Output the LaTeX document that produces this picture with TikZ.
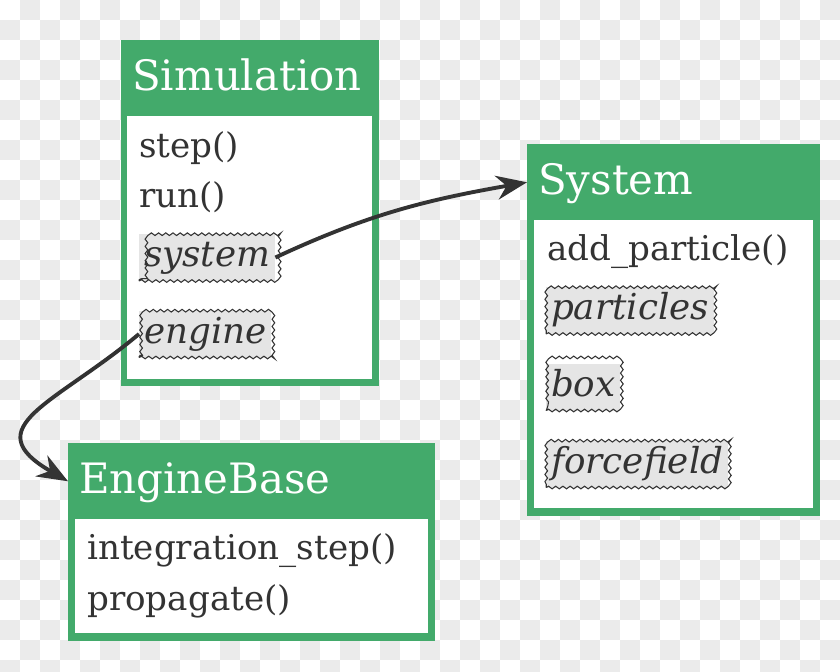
\documentclass[tikz,border=0pt]{standalone}
\usepackage{fontspec}
\setmainfont{DejaVu Serif}
\usetikzlibrary{arrows.meta,decorations.pathmorphing}
\definecolor{umlgreen}{RGB}{67,170,107}
\definecolor{ink}{RGB}{51,51,51}
\definecolor{attrgray}{RGB}{229,229,229}
\definecolor{checker}{RGB}{235,235,235}
\tikzset{
  classframe/.style={fill=umlgreen, anchor=north west, inner sep=0pt},
  classbody/.style={fill=white, anchor=north west, inner sep=0pt},
  classhead/.style={anchor=north west, text=white, align=left,
    font=\fontsize{31.4}{37}\selectfont,
    inner xsep=11*\pu, inner ysep=0pt, text height=23.9pt, text depth=5.5pt},
  member/.style={anchor=base west, text=ink, inner sep=0pt,
    font=\fontsize{25.6}{30}\selectfont},
  attr/.style={anchor=west, text=ink, fill=attrgray, inner xsep=3.6pt,
    font=\fontsize{26.8}{31}\selectfont\itshape,
    minimum height=47*\pu, text height=19.5pt, text depth=5.5pt,
    postaction={draw=ink, line width=0.8pt, decorate,
      decoration={snake, segment length=5.4pt, amplitude=1pt}}},
  arr/.style={draw=ink, line width=2.9pt, -{Stealth[length=23pt,width=18pt]}},
}
\begin{document}
\begin{tikzpicture}[x=0.75pt, y=-0.75pt]
  \def\pu{0.75pt}
  \useasboundingbox (0,0) rectangle (840,672);
  % checkered background
  \fill[white] (0,0) rectangle (840,672);
  \foreach \i in {0,...,41}
    \foreach \j in {0,...,33}
      {\ifodd\numexpr\i+\j\relax \fill[checker] (20*\i,20*\j) rectangle +(20,20);\fi}

  % Simulation
  \node[classframe, minimum width=258*\pu, minimum height=346*\pu] (simframe) at (121,40) {};
  \node[classbody, minimum width=245*\pu, minimum height=263*\pu] (simbody) at (127,116) {};
  \node[classhead, text width=236*\pu, minimum height=76*\pu] (simhead) at (121,40) {Simulation};
  \node[member] (simstep) at (139,157) {step()};
  \node[member] (simrun) at (139,207) {run()};
  \node[attr] (simsystem) at (139,257.5) {system};
  \node[attr] (simengine) at (139,334) {engine};

  % System
  \node[classframe, minimum width=293*\pu, minimum height=372*\pu] (sysframe) at (527,144) {};
  \node[classbody, minimum width=279*\pu, minimum height=288*\pu] (sysbody) at (534,220) {};
  \node[classhead, text width=271*\pu, minimum height=76*\pu] (syshead) at (527,144) {System};
  \node[member] (sysadd) at (547,260) {add\_particle()};
  \node[attr] (sysparticles) at (546,310.5) {particles};
  \node[attr] (sysbox) at (546,387) {box};
  \node[attr] (sysforcefield) at (546,464) {forcefield};

  % EngineBase
  \node[classframe, minimum width=367*\pu, minimum height=198*\pu] (engframe) at (68,443) {};
  \node[classbody, minimum width=353*\pu, minimum height=114*\pu] (engbody) at (75,519) {};
  \node[classhead, text width=345*\pu, minimum height=76*\pu] (enghead) at (68,443) {EngineBase};
  \node[member] (engintegrate) at (87,559) {integration\_step()};
  \node[member] (engpropagate) at (87,610) {propagate()};

  % references
  \path (simsystem.east) edge [arr, out=25, in=190] (syshead.west);
  \path (simengine.west) edge [arr, out=220, in=150, looseness=1.7] (enghead.west);
\end{tikzpicture}
\end{document}
